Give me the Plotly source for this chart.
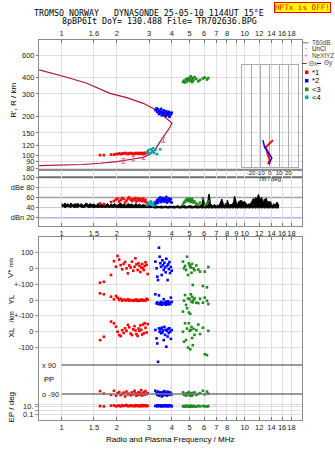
import plotly.graph_objects as go

# ---------------- page geometry (pixels) ----------------
W, H = 335, 451
ML, MR, MT, MB = 39, 33, 40, 31
PW, PH = W - ML - MR, H - MT - MB


def px(x):
    return (x - ML) / PW


def py(y):
    return (H - MB - y) / PH


# ---------------- axes data ----------------
F_RANGE = [-0.124, 1.313]          # log10(MHz)
grid_f = [1, 1.5, 2, 3, 4, 5, 6, 7, 8, 9, 10, 12, 14, 16, 18]
top_f_text = ["1", "1.6", "2", "3", "4", "5", "6", "7", "8", "", "10", "12", "14", "16", "18"]
mid_f_text = ["1", "1.5", "2", "3", "4", "5", "6", "7", "8", "9", "10", "12", "14", "16", "18"]
bot_f_text = ["1", "1.5", "2", "3", "4", "5", "6", "7", "8", "", "10", "12", "14", "16", "18"]

h_ticks = [800, 600, 400, 300, 200, 150, 120, 100, 90, 80]
db_ticks = [100, 80, 60, 40, 20]
db_text = ["100", "dBe 80", "60", "40", "dBn 20"]

# ---------------- electron density profile ----------------
prof_f = [0.754, 1.0, 1.3, 1.62, 2.0, 2.45, 2.79, 3.04, 3.23, 3.45, 3.67, 3.91, 4.0,
          3.75, 3.30, 2.79, 2.265, 1.836, 1.37, 1.065, 0.754]
prof_h = [83.7, 84.5, 85.5, 87.4, 90.0, 94.3, 97.2, 102.5, 110.7, 128.3, 144.6, 166.5, 179,
          194, 225, 254, 281, 303, 363, 404, 460]

nx_f = [2.17, 2.46, 2.80, 3.59]
nx_h = [91.4, 95.1, 97.7, 132.3]
nx_err = [4, 4, 4, 5.5]

# ---------------- echoes ----------------
red_f = [1.62, 1.70, 1.86, 1.93, 1.98, 2.02, 2.06, 2.10, 2.14, 2.18, 2.22, 2.26, 2.30, 2.34, 2.38, 2.42,
         2.46, 2.50, 2.53, 2.56, 2.60, 2.63, 2.66, 2.69, 2.72, 2.75, 2.78, 2.81, 2.84, 2.87, 2.91, 2.95]
red_h = [101, 101, 102, 102, 103, 103, 104, 103, 104, 104, 105, 104, 103, 104, 105, 104,
         103, 104, 104, 105, 104, 105, 104, 104, 105, 104, 104, 105, 104, 105, 105, 106]
red_amp = [48, 47, 51, 53, 56, 58, 52, 55, 59, 57, 50, 54, 58, 60, 56, 53,
           57, 55, 59, 52, 56, 58, 54, 57, 55, 53, 58, 56, 52, 55, 50, 47]
red_vs = [-91, -85, -42, 45, 10, 78, 55, 20, -6, 28, 40, 0, -32, 18, 5, 42,
          -15, 10, 63, 25, -11, 32, 15, -23, 5, 27, 0, -11, 15, 38, 22, -36]
red_yl = [42, 36, 21, 4, 25, 14, 0, 8, -5, 2, 0, -3, 5, -4, 0, -2,
          -5, 0, -3, 3, -6, 0, -2, -4, 0, 3, -3, -2, 0, -5, 8, 2]
red_xl = [-53, -32, 64, 53, 32, 0, -21, -27, 10, -8, 21, 5, 43, 28, -12, -21,
          15, 35, 8, -15, -27, 20, 5, 40, 12, -18, 45, -10, 53, 25, -5, 48]
red_pp = [-72, -88, -95, -70, -100, -85, -78, -96, -90, -82, -105, -75, -92, -88, -98, -80,
          -93, -70, -86, -101, -90, -78, -95, -84, -66, -99, -88, -80, -94, -72, -90, -85]
red_ep = [14, 12, 18, 22, 13, 16, 20, 12, 25, 15, 18, 28, 13, 16, 21, 14,
          19, 13, 24, 15, 17, 22, 12, 18, 15, 26, 14, 19, 16, 23, 13, 17]

blue_f = [3.25, 3.30, 3.33, 3.36, 3.40, 3.43, 3.46, 3.49, 3.52, 3.55, 3.58, 3.61,
          3.64, 3.67, 3.70, 3.73, 3.76, 3.79, 3.82, 3.85, 3.88, 3.91, 3.95, 3.99]
blue_h = [225, 232, 218, 228, 210, 222, 215, 230, 205, 219, 212, 224,
          208, 216, 203, 220, 210, 214, 206, 218, 200, 212, 208, 215]
blue_amp = [48, 52, 55, 50, 58, 54, 60, 51, 56, 53, 59, 55,
            52, 57, 54, 61, 50, 56, 53, 58, 55, 52, 57, 50]
blue_vs = [42, 0, -53, -74, 130, 73, 32, 10, -42, 50, 20, -10,
           35, 5, -25, 60, 15, -74, 25, -5, 40, -30, 8, -15]
blue_yl = [36, -21, -15, -25, 29, -20, -28, -12, -30, -18, -25, 5,
           -22, -15, -30, -10, -26, -20, -8, -28, -18, -24, 15, -12]
blue_xl = [11, -42, -74, -190, 21, 0, 15, -10, 25, -5, 8, -53,
           30, -20, 12, -95, 5, -30, 18, -8, 22, 0, -45, 10]
blue_pp = [-70, -85, -95, -75, -100, -88, -80, -92, -105, -78, -90, -98,
           -72, -86, -94, -82, -100, -76, -90, -85, -95, -80, -88, -92]
blue_ep = [15, 20, 12, 25, 18, 14, 22, 16, 12, 20, 15, 18,
           13, 24, 17, 14, 20, 16, 12, 18, 22, 15, 19, 13]

green_f = [4.60, 4.66, 4.72, 4.78, 4.84, 4.90, 4.95, 5.00, 5.04, 5.08, 5.12,
           5.16, 5.20, 5.25, 5.32, 5.44, 5.58, 5.70, 5.91, 6.05, 6.22, 6.33]
green_h = [372, 380, 368, 390, 375, 395, 385, 400, 378, 410, 388,
           370, 398, 382, 405, 392, 376, 385, 395, 402, 388, 398]
green_amp = [46, 50, 52, 55, 57, 53, 56, 58, 54, 51, 55,
             57, 53, 50, 52, 48, 46, 50, 58, 45, 47, 52]
green_vs = [42, 0, 15, -11, 73, -42, 32, 20, 10, 5, -28,
            27, -105, 0, -12, 18, -8, -21, -112, -21, -120, 8]
green_yl = [-73, -4, 31, -31, -52, 10, -79, 5, -87, 36, -10,
            20, -15, 0, 12, -17, -20, 8, -17, 15, -5, -25]
green_xl = [0, -63, 53, -53, 20, -100, 53, 5, -111, 11, 30,
            -40, -85, 18, -20, 10, 45, -15, 25, -142, -148, 5]
green_pp = [-80, -95, -88, -100, -85, -92, -78, -98, -86, -90, -102,
            -84, -94, -88, -80, -96, -90, -85, -70, -92, -75, -88]
green_ep = [12, 15, 10, 18, 14, 11, 16, 13, 10, 17, 12,
            15, 11, 14, 13, 10, 16, 12, 15, 13, 11, 14]

cyan_f = [2.92, 2.97, 3.02, 3.07, 3.12, 3.16, 3.20, 3.25, 3.32, 3.45]
cyan_h = [106, 110, 104, 112, 108, 114, 105, 111, 103, 112]
cyan_amp = [45, 50, 47, 52, 48, 44, 51, 46, 49, 53]

# ---------------- noise level ----------------
noise_f = [
    1.00, 1.02, 1.04, 1.06, 1.08, 1.10, 1.12, 1.14, 1.16, 1.18,
    1.20, 1.22, 1.25, 1.28, 1.31, 1.34, 1.37, 1.40, 1.43, 1.46,
    1.50, 1.54, 1.58, 1.62, 1.66, 1.70, 1.74, 1.78, 1.82, 1.86,
    1.90, 1.95, 2.00, 2.05, 2.10, 2.15, 2.20, 2.25, 2.30, 2.36,
    2.42, 2.48, 2.54, 2.60, 2.66, 2.72, 2.78, 2.85, 2.92, 3.00,
    3.08, 3.16, 3.24, 3.32, 3.40, 3.50, 3.60, 3.70, 3.80, 3.90,
    4.00, 4.10, 4.20, 4.30, 4.40, 4.50, 4.62, 4.74, 4.86, 5.00,
    5.12, 5.25, 5.38, 5.50, 5.62, 5.75, 5.85, 5.93, 6.00, 6.10,
    6.20, 6.30, 6.38, 6.44, 6.50, 6.60, 6.70, 6.80, 6.90, 7.00,
    7.10, 7.20, 7.30, 7.40, 7.50, 7.56, 7.65, 7.75, 7.85, 7.95,
    8.05, 8.12, 8.20, 8.30, 8.40, 8.50, 8.60, 8.70, 8.80, 8.88,
    8.95, 9.05, 9.15, 9.25, 9.35, 9.45, 9.55, 9.65, 9.75, 9.85,
    9.95, 10.1, 10.25, 10.4, 10.55, 10.7, 10.85, 11.0, 11.15, 11.3,
    11.45, 11.6, 11.75, 11.9, 12.05, 12.2, 12.35, 12.5, 12.65, 12.8,
    12.95, 13.1, 13.25, 13.4, 13.55, 13.7, 13.85, 14.0, 14.2, 14.4,
    14.6, 14.8, 15.0, 15.2, 15.4]
noise_hi = [
    48, 45, 49, 46, 48, 44, 49, 47, 45, 48,
    46, 49, 45, 48, 44, 47, 49, 45, 48, 46,
    47, 44, 48, 45, 47, 43, 46, 48, 44, 47,
    45, 48, 44, 47, 49, 45, 47, 44, 48, 46,
    47, 44, 48, 45, 47, 44, 46, 45, 43, 44,
    43, 44, 42, 43, 42, 43, 42, 43, 42, 43,
    42, 43, 42, 44, 42, 43, 45, 43, 42, 44,
    43, 42, 44, 43, 42, 45, 47, 61, 50, 44,
    48, 56, 67, 60, 48, 45, 43, 46, 44, 43,
    45, 44, 47, 52, 57, 54, 46, 44, 48, 45,
    55, 49, 46, 44, 47, 45, 48, 52, 63, 58,
    50, 47, 46, 52, 49, 55, 51, 54, 48, 50,
    53, 49, 47, 45, 48, 46, 50, 56, 58, 55,
    60, 57, 62, 66, 59, 55, 61, 52, 49, 57,
    54, 59, 51, 47, 53, 49, 52, 46, 44, 48,
    45, 47, 51, 46, 44]
noise_lo = [
    41, 42, 40, 41, 42, 41, 40, 42, 41, 40,
    41, 40, 42, 41, 40, 41, 42, 40, 41, 41,
    40, 41, 40, 41, 40, 41, 40, 41, 40, 41,
    40, 41, 40, 40, 41, 40, 41, 40, 40, 41,
    40, 41, 40, 40, 41, 40, 40, 41, 40, 40,
    40, 40, 39, 40, 40, 39, 40, 40, 39, 40,
    40, 39, 40, 40, 39, 40, 40, 39, 40, 40,
    39, 40, 40, 39, 40, 40, 39, 40, 40, 39,
    40, 40, 39, 40, 40, 39, 40, 40, 39, 40,
    40, 39, 40, 40, 39, 40, 40, 39, 40, 40,
    39, 40, 40, 39, 40, 40, 39, 40, 40, 39,
    40, 40, 39, 40, 40, 39, 40, 40, 39, 40,
    40, 39, 40, 40, 39, 40, 40, 39, 40, 40,
    39, 40, 40, 39, 40, 40, 39, 40, 40, 39,
    40, 40, 39, 40, 40, 39, 40, 40, 39, 40,
    40, 39, 40, 40, 39]

# ---------------- tilt profile ----------------
tilt_h = [132, 124, 116, 108, 101, 96, 92.6, 89, 86]
tilt_x = [3.5, 0, -4.3, -3, -1.8, -0.5, 0, -1, -1.6]
tilt_y = [-7.2, -6.5, -5.4, -2, 0, 2.2, 1.0, 0, -0.5]

# ---------------- styling ----------------
RED, BLUE, GREEN, CYAN = "#ff0000", "#0000ff", "#1e8c1e", "#00a8a8"
CURVE = "#b0143e"
PINK = "#e8608c"
GRID = "#e3dde0"
FRAME = "#8c8c8c"
TICKFONT = dict(family="Liberation Sans", size=7.5, color="#222222")

fig = go.Figure()


def echoes(x, y, color, xa, ya):
    fig.add_trace(go.Scatter(
        x=x, y=y, mode="markers", xaxis=xa, yaxis=ya, showlegend=False,
        marker=dict(symbol="square", size=2.6, color=color, line=dict(width=0))))


# --- top panel: height vs frequency ---
fig.add_trace(go.Scatter(x=prof_f, y=prof_h, mode="lines", xaxis="x", yaxis="y",
                         line=dict(color=CURVE, width=1.2), showlegend=False))
fig.add_trace(go.Scatter(x=nx_f, y=nx_h, mode="markers", xaxis="x", yaxis="y",
                         marker=dict(size=1, color=PINK, opacity=0),
                         error_y=dict(type="data", array=nx_err, color=PINK, thickness=1, width=2),
                         showlegend=False))
echoes(red_f, red_h, RED, "x", "y")
echoes(cyan_f, cyan_h, CYAN, "x", "y")
echoes(blue_f, blue_h, BLUE, "x", "y")
echoes(green_f, green_h, GREEN, "x", "y")

# --- tilt inset ---
fig.add_trace(go.Scatter(x=tilt_x, y=tilt_h, mode="lines", xaxis="x4", yaxis="y8",
                         line=dict(color=RED, width=2), showlegend=False))
fig.add_trace(go.Scatter(x=tilt_y, y=tilt_h, mode="lines", xaxis="x4", yaxis="y8",
                         line=dict(color=BLUE, width=1.5), showlegend=False))

# --- amplitude panel ---
fig.add_trace(go.Scatter(x=noise_f, y=noise_lo, mode="lines", xaxis="x2", yaxis="y2",
                         line=dict(color="black", width=1), showlegend=False))
fig.add_trace(go.Scatter(x=noise_f, y=noise_hi, mode="lines", xaxis="x2", yaxis="y2",
                         line=dict(color="black", width=1), fill="tonexty",
                         fillcolor="black", showlegend=False))
echoes(red_f, red_amp, RED, "x2", "y2")
echoes(cyan_f, cyan_amp, CYAN, "x2", "y2")
echoes(blue_f, blue_amp, BLUE, "x2", "y2")
echoes(green_f, green_amp, GREEN, "x2", "y2")

# --- parameter panel ---
for f, vs, yl, xl, pp, ep, c in [
    (red_f, red_vs, red_yl, red_xl, red_pp, red_ep, RED),
    (blue_f, blue_vs, blue_yl, blue_xl, blue_pp, blue_ep, BLUE),
    (green_f, green_vs, green_yl, green_xl, green_pp, green_ep, GREEN),
]:
    echoes(f, vs, c, "x3", "y3")
    echoes(f, yl, c, "x3", "y4")
    echoes(f, xl, c, "x3", "y5")
    echoes(f, pp, c, "x3", "y6")
    echoes(f, ep, c, "x3", "y7")

# ---------------- axes ----------------
xcommon = dict(type="log", range=F_RANGE, tickvals=grid_f, showgrid=True, gridcolor=GRID,
               gridwidth=1, showline=True, linecolor=FRAME, linewidth=1, mirror=True,
               ticks="inside", ticklen=3, tickcolor="#777777", tickfont=TICKFONT,
               tickangle=0, zeroline=False)

P_TOP = [py(170), py(40)]
P_DB = [py(226), py(170)]
P_BOT = [py(420), py(237)]

SC = 0.1585  # px per m/s or km in the parameter panel

layout_axes = dict(
    xaxis=dict(xcommon, domain=[0, 1], anchor="y", side="top", ticktext=top_f_text),
    xaxis2=dict(xcommon, domain=[0, 1], anchor="y2", side="bottom", ticktext=mid_f_text),
    xaxis3=dict(xcommon, domain=[0, 1], anchor="y3", side="bottom", ticktext=bot_f_text,
                mirror="ticks"),
    yaxis=dict(type="log", domain=P_TOP, anchor="x",
               range=[2 - 14.3 / 129.4, 2 + 115.7 / 129.4],
               tickvals=h_ticks, ticktext=[str(v) for v in h_ticks],
               showgrid=True, gridcolor=GRID, showline=True, linecolor=FRAME, mirror=True,
               ticks="outside", ticklen=2, tickcolor="#777777", tickfont=TICKFONT,
               zeroline=False),
    yaxis2=dict(domain=P_DB, anchor="x2", range=[3.56, 114.46],
                tickvals=db_ticks, ticktext=db_text, showgrid=False,
                showline=True, linecolor=FRAME, mirror=True,
                ticks="outside", ticklen=2, tickcolor="#777777", tickfont=TICKFONT,
                zeroline=False),
    yaxis3=dict(domain=P_BOT, anchor="x3",
                range=[(268.3 - 420) / SC, (268.3 - 237) / SC],
                tickvals=[100, 0, -100], ticktext=["100", "0", "+-100"],
                showgrid=True, gridcolor=GRID, showline=True, linecolor=FRAME, mirror=True,
                ticks="outside", ticklen=3, tickcolor="#999999", tickfont=TICKFONT,
                zeroline=False),
    yaxis4=dict(overlaying="y3", anchor="x3",
                range=[(300 - 420) / SC, (300 - 237) / SC],
                tickvals=[0], ticktext=["0"],
                showgrid=True, gridcolor=GRID, showline=False,
                ticks="outside", ticklen=3, tickcolor="#999999", tickfont=TICKFONT,
                zeroline=False),
    yaxis5=dict(overlaying="y3", anchor="x3",
                range=[(331.7 - 420) / SC, (331.7 - 237) / SC],
                tickvals=[100, 0, -100], ticktext=["+-100", "0", "-100"],
                showgrid=True, gridcolor=GRID, showline=False,
                ticks="outside", ticklen=3, tickcolor="#999999", tickfont=TICKFONT,
                zeroline=False),
    yaxis6=dict(overlaying="y3", anchor="x3",
                range=[90 - (420 - 365) / 0.16111, 90 + (365 - 237) / 0.16111],
                tickvals=[90, -90], ticktext=["x 90", "o -90"],
                ticklabelposition="inside", showgrid=False, showline=False,
                ticks="", tickfont=TICKFONT, zeroline=False),
    yaxis7=dict(overlaying="y3", anchor="x3", type="log",
                range=[1 - (420 - 406.7) / 3.8, 1 + (406.7 - 237) / 3.8],
                tickvals=[30, 10, 1, 0.1], ticktext=["", "10.", "", "0.1"],
                showgrid=True, gridcolor=GRID, showline=False,
                ticks="outside", ticklen=3, tickcolor="#999999", tickfont=TICKFONT,
                zeroline=False),
    xaxis4=dict(domain=[px(241.7), px(297.7)], anchor="y8", range=[-30, 30],
                tickvals=[-20, -10, 0, 10, 20], ticktext=["-20", "-10", "0", "10", "20"],
                showgrid=True, gridcolor="#a9a9bd", showline=True, linecolor="#a9a9bd",
                mirror=True, ticks="", zeroline=False, tickangle=0,
                tickfont=dict(family="Liberation Sans", size=6, color="#222222"),
                title=dict(text="Tilt / deg", standoff=0,
                           font=dict(family="Liberation Sans", size=6, color="#222222"))),
    yaxis8=dict(domain=[py(167), py(65)], anchor="x4", type="log",
                range=[2 - 11.3 / 129.4, 2 + 90.7 / 129.4],
                showticklabels=False, showgrid=False, showline=True, linecolor="#a9a9bd",
                mirror=True, ticks="", zeroline=False),
)

# ---------------- shapes ----------------
shapes = []
for val, col, w in [(100, "#6e6e6e", 2), (80, "#d6d6d6", 1), (60, "#a0a0a0", 1.5),
                    (40, "#c4c4c4", 1), (20, "#b4b4e0", 1.5)]:
    shapes.append(dict(type="line", xref="x2 domain", yref="y2", x0=0, x1=1, y0=val, y1=val,
                       line=dict(color=col, width=w), layer="below"))
for val in [90, -90]:
    shapes.append(dict(type="line", xref="x3", yref="y6", x0=1, x1=10 ** F_RANGE[1],
                       y0=val, y1=val, line=dict(color="#7a7a7a", width=1.5)))

# legend glyphs in the right margin
shapes.append(dict(type="line", xref="paper", yref="paper", x0=px(302.5), x1=px(308.5),
                   y0=py(42.7), y1=py(42.7), line=dict(color="#9a9a9a", width=1.5)))
shapes.append(dict(type="line", xref="paper", yref="paper", x0=px(302), x1=px(306.5),
                   y0=py(63.5), y1=py(63.5), line=dict(color=RED, width=1)))
shapes.append(dict(type="line", xref="paper", yref="paper", x0=px(317), x1=px(321),
                   y0=py(63.5), y1=py(63.5), line=dict(color=BLUE, width=1)))
for yy, c in [(72.3, RED), (80.7, BLUE), (89.3, GREEN), (97.3, CYAN)]:
    shapes.append(dict(type="rect", xref="paper", yref="paper",
                       x0=px(305), x1=px(308.5), y0=py(yy + 1.8), y1=py(yy - 1.8),
                       fillcolor=c, line=dict(width=0)))

# ---------------- annotations ----------------
ann = []


def text(x, y, s, size=8, color="#222222", family="Liberation Sans", xanchor="center",
         angle=0, **kw):
    ann.append(dict(x=px(x), y=py(y), xref="paper", yref="paper", text=s, showarrow=False,
                    xanchor=xanchor, yanchor="middle", textangle=angle,
                    font=dict(family=family, size=size, color=color), **kw))


MONO = "DejaVu Sans Mono"
text(149, 12.7, "TROMSO NORWAY   DYNASONDE 25-05-10 1144UT 15°E", size=8.3, color="black",
     family=MONO)
text(159, 20.5, "8pBP6It DoY= 130.488 File= TR702636.BPG", size=8.3, color="black", family=MONO)
text(302.5, 7.7, "HPTx is OFF!", size=7.6, color="#ff0000", family=MONO,
     bgcolor="#ffff00", bordercolor="#ff0000", borderwidth=1, borderpad=0)

text(12.7, 100, "R', R / km", size=8, color="black", angle=-90)
text(10, 268, "V* <span style='font-size:6px'>m/s</span>", size=8, color="black", angle=-90)
text(10.5, 300, "YL", size=8, color="black", angle=-90)
text(10.5, 317, "/km", size=7, color="black", angle=-90)
text(10.5, 333, "XL", size=8, color="black", angle=-90)
text(10.5, 407, "EP / deg", size=8, color="black", angle=-90)
text(42, 379.3, "PP", size=7.5, color="black", xanchor="left")
text(170, 439, "Radio and Plasma Frequency / MHz", size=8, color="black")

# echo labels
for f, h, s in [(2.52, 99, "*1"), (3.27, 101, "<4"), (3.72, 208, "*2"), (5.42, 363, "<3")]:
    ann.append(dict(x=f, y=h, xref="x", yref="y", text=s, showarrow=False,
                    font=dict(family=MONO, size=8, color="black")))
# legend labels
LEG = 6.3
for yy, s, c in [(42.7, "T60dB", "#444444"), (48.5, "UnCl", "#222222"),
                 (55.7, "NeXtYZ", "#444444"), (72.3, "*1", "black"), (80.7, "*2", "black"),
                 (89.3, "<3", "black"), (97.3, "<4", "black")]:
    text(310, yy, s, size=LEG if len(s) > 2 else 7.5, color=c, xanchor="left")
text(306, 48.3, "·", size=7, color="black")
text(305.5, 55.7, "+", size=7, color=PINK)
text(306.8, 63.3, "Θx", size=LEG, color="#444444", xanchor="left")
text(321.5, 63.3, "Θy", size=LEG, color="#444444", xanchor="left")

fig.update_layout(
    template="none",
    width=W, height=H,
    margin=dict(l=ML, r=MR, t=MT, b=MB, pad=0),
    paper_bgcolor="white", plot_bgcolor="rgba(0,0,0,0)",
    showlegend=False,
    shapes=shapes, annotations=ann,
    **layout_axes,
)

fig.write_html("out.html")
